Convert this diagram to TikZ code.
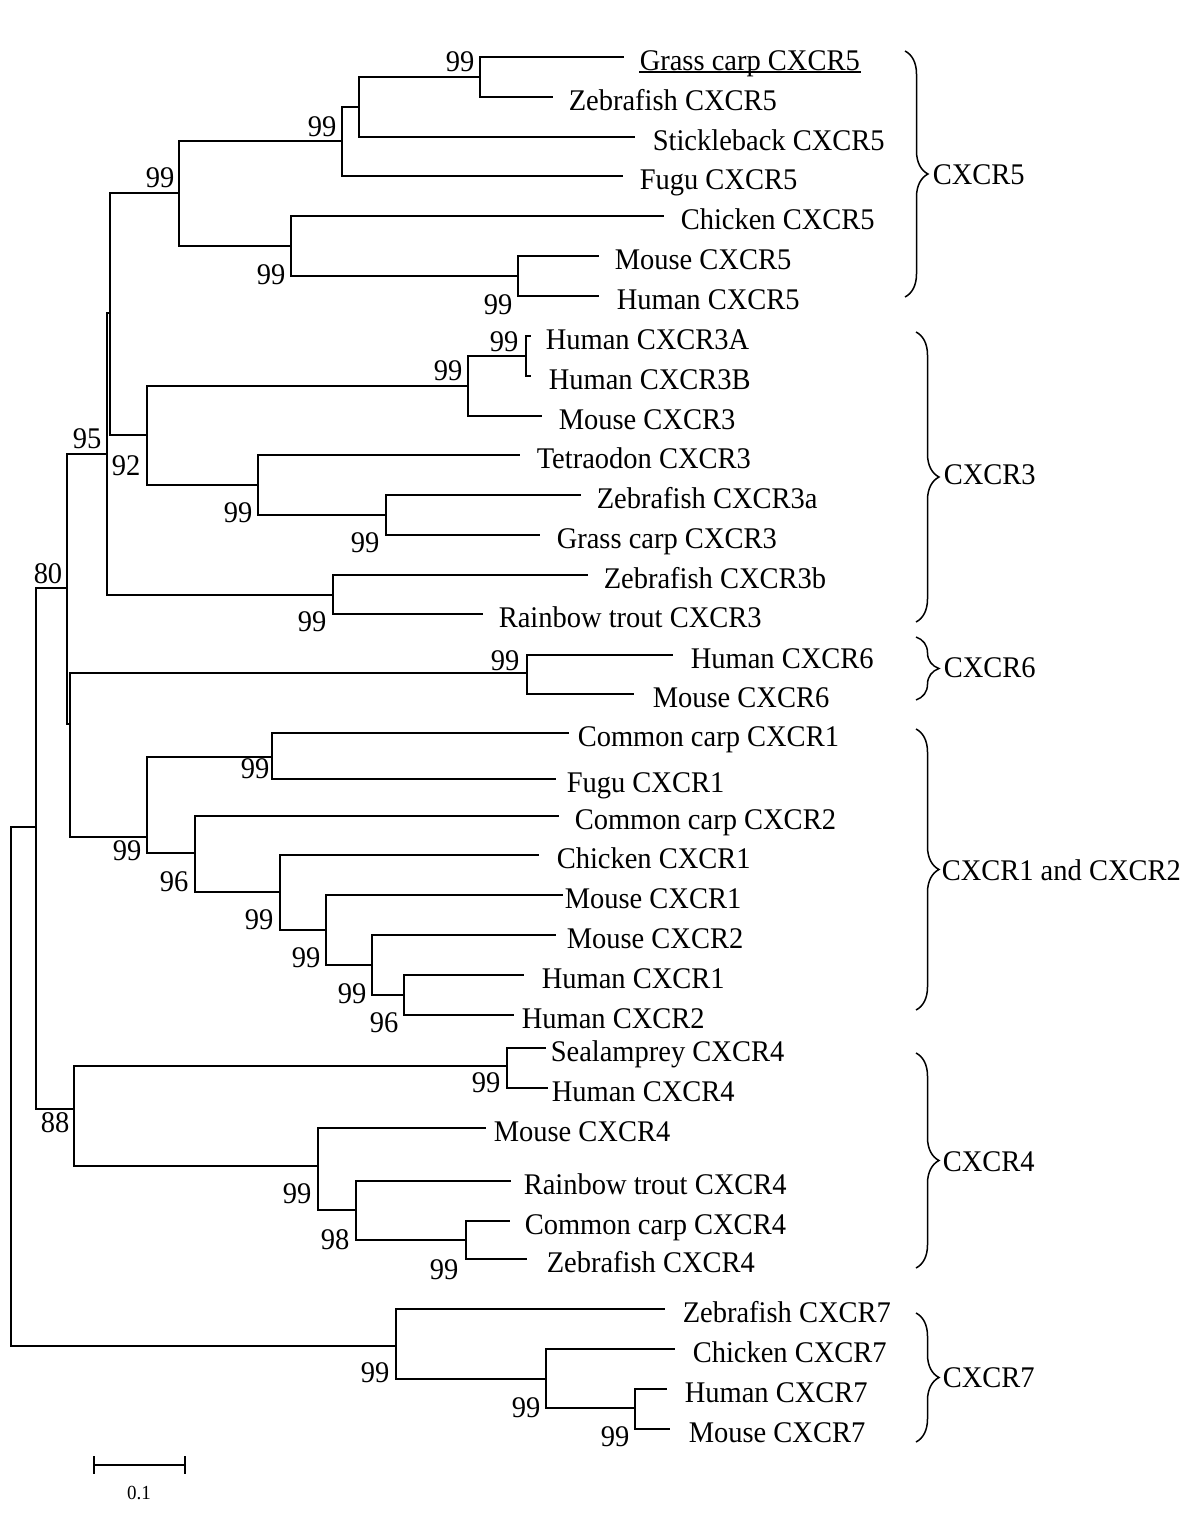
\documentclass[tikz,border=0pt]{standalone}
\usepackage{fontspec}
\setmainfont{Liberation Serif}[FakeStretch=0.95]
\usetikzlibrary{positioning,decorations.pathreplacing}

\begin{document}
\begin{tikzpicture}[
  x=1pt, y=-1pt,
  line width=1.5pt,
  every node/.style={inner sep=0pt, font=\fontsize{30}{34}\selectfont},
  leaf/.style={anchor=base west, yshift=-13pt},
  clade/.style={decorate, decoration={brace, amplitude=23pt}},
  group/.style={anchor=west}
]
\useasboundingbox (0,0) rectangle (1200,1524);

\coordinate (root)    at (11,1086);
\coordinate (top)     at (36,827);
\coordinate (n80)     at (67,588);
\coordinate (n95)     at (107,454);
\coordinate (n5and3)  at (110,313);
\coordinate (c5)      at (179,193);
\coordinate (c5fish)  at (342,141);
\coordinate (c5fishb) at (359,107);
\coordinate (c5carp)  at (480,77);
\coordinate (c5tetra) at (291,246);
\coordinate (c5mam)   at (518,276);
\coordinate (c3)      at (147,435);
\coordinate (c3mam)   at (468,386);
\coordinate (c3hum)   at (526,356);
\coordinate (c3fish)  at (258,485);
\coordinate (c3cyp)   at (386,515);
\coordinate (c3b)     at (333,595);
\coordinate (n6and12) at (70,724);
\coordinate (c6)      at (527,673);
\coordinate (c12)     at (147,837);
\coordinate (c1fish)  at (272,757);
\coordinate (c12b)    at (195,853);
\coordinate (c12c)    at (280,892);
\coordinate (c12d)    at (326,930);
\coordinate (c12e)    at (372,965);
\coordinate (c12hum)  at (404,995);
\coordinate (c4)      at (74,1109);
\coordinate (c4a)     at (507,1066);
\coordinate (c4b)     at (318,1166);
\coordinate (c4c)     at (356,1210);
\coordinate (c4cyp)   at (466,1240);
\coordinate (c7)      at (396,1346);
\coordinate (c7b)     at (546,1379);
\coordinate (c7mam)   at (635,1408);

\coordinate (tgc5)  at (624,57);
\coordinate (tzf5)  at (553,97);
\coordinate (tsb5)  at (635,137);
\coordinate (tfu5)  at (623,176);
\coordinate (tch5)  at (664,216);
\coordinate (tmo5)  at (599,256);
\coordinate (thu5)  at (599,296);
\coordinate (thu3a) at (531,336);
\coordinate (thu3b) at (531,376);
\coordinate (tmo3)  at (542,416);
\coordinate (tte3)  at (520,455);
\coordinate (tzf3a) at (581,495);
\coordinate (tgc3)  at (540,535);
\coordinate (tzf3b) at (588,575);
\coordinate (trt3)  at (483,614);
\coordinate (thu6)  at (673,655);
\coordinate (tmo6)  at (634,694);
\coordinate (tcc1)  at (569,733);
\coordinate (tfu1)  at (556,779);
\coordinate (tcc2)  at (559,816);
\coordinate (tch1)  at (539,855);
\coordinate (tmo1)  at (563,895);
\coordinate (tmo2)  at (556,935);
\coordinate (thu1)  at (524,975);
\coordinate (thu2)  at (514,1015);
\coordinate (tsl4)  at (546,1048);
\coordinate (thu4)  at (548,1088);
\coordinate (tmo4)  at (486,1128);
\coordinate (trt4)  at (511,1181);
\coordinate (tcc4)  at (510,1221);
\coordinate (tzf4)  at (527,1259);
\coordinate (tzf7)  at (665,1309);
\coordinate (tch7)  at (675,1349);
\coordinate (thu7)  at (667,1389);
\coordinate (tmo7)  at (670,1429);

\node (lgc5)  [right=15pt of tgc5, leaf]  {Grass carp CXCR5};
\node (lzf5)  [right=15pt of tzf5, leaf]  {Zebrafish CXCR5};
\node (lsb5)  [right=17pt of tsb5, leaf]  {Stickleback CXCR5};
\node (lfu5)  [right=16pt of tfu5, leaf]  {Fugu CXCR5};
\node (lch5)  [right=16pt of tch5, leaf]  {Chicken CXCR5};
\node (lmo5)  [right=15pt of tmo5, leaf]  {Mouse CXCR5};
\node (lhu5)  [right=17pt of thu5, leaf]  {Human CXCR5};
\node (lhu3a) [right=14pt of thu3a, leaf] {Human CXCR3A};
\node (lhu3b) [right=17pt of thu3b, leaf] {Human CXCR3B};
\node (lmo3)  [right=16pt of tmo3, leaf]  {Mouse CXCR3};
\node (lte3)  [right=16pt of tte3, leaf]  {Tetraodon CXCR3};
\node (lzf3a) [right=15pt of tzf3a, leaf] {Zebrafish CXCR3a};
\node (lgc3)  [right=16pt of tgc3, leaf]  {Grass carp CXCR3};
\node (lzf3b) [right=15pt of tzf3b, leaf] {Zebrafish CXCR3b};
\node (lrt3)  [right=15pt of trt3, leaf]  {Rainbow trout CXCR3};
\node (lhu6)  [right=17pt of thu6, leaf]  {Human CXCR6};
\node (lmo6)  [right=18pt of tmo6, leaf]  {Mouse CXCR6};
\node (lcc1)  [right=8pt of tcc1, leaf]   {Common carp CXCR1};
\node (lfu1)  [right=10pt of tfu1, leaf]  {Fugu CXCR1};
\node (lcc2)  [right=15pt of tcc2, leaf]  {Common carp CXCR2};
\node (lch1)  [right=17pt of tch1, leaf]  {Chicken CXCR1};
\node (lmo1)  [right=1pt of tmo1, leaf]   {Mouse CXCR1};
\node (lmo2)  [right=10pt of tmo2, leaf]  {Mouse CXCR2};
\node (lhu1)  [right=17pt of thu1, leaf]  {Human CXCR1};
\node (lhu2)  [right=7pt of thu2, leaf]   {Human CXCR2};
\node (lsl4)  [right=4pt of tsl4, leaf]   {Sealamprey CXCR4};
\node (lhu4)  [right=3pt of thu4, leaf]   {Human CXCR4};
\node (lmo4)  [right=7pt of tmo4, leaf]   {Mouse CXCR4};
\node (lrt4)  [right=12pt of trt4, leaf]  {Rainbow trout CXCR4};
\node (lcc4)  [right=14pt of tcc4, leaf]  {Common carp CXCR4};
\node (lzf4)  [right=19pt of tzf4, leaf]  {Zebrafish CXCR4};
\node (lzf7)  [right=17pt of tzf7, leaf]  {Zebrafish CXCR7};
\node (lch7)  [right=17pt of tch7, leaf]  {Chicken CXCR7};
\node (lhu7)  [right=17pt of thu7, leaf]  {Human CXCR7};
\node (lmo7)  [right=18pt of tmo7, leaf]  {Mouse CXCR7};

\draw (root) |- (top);
\draw (root) |- (c7);
\draw (top) |- (n80);
\draw (top) |- (c4);
\draw (n80) |- (n95);
\draw (n80) |- (n6and12);
\draw (n95) |- (n5and3);
\draw (n95) |- (c3b);
\draw (n5and3) |- (c5);
\draw (n5and3) |- (c3);

\draw (c5) |- (c5fish);
\draw (c5) |- (c5tetra);
\draw (c5fish) |- (c5fishb);
\draw (c5fish) |- (tfu5);
\draw (c5fishb) |- (c5carp);
\draw (c5fishb) |- (tsb5);
\draw (c5carp) |- (tgc5);
\draw (c5carp) |- (tzf5);
\draw (c5tetra) |- (tch5);
\draw (c5tetra) |- (c5mam);
\draw (c5mam) |- (tmo5);
\draw (c5mam) |- (thu5);

\draw (c3) |- (c3mam);
\draw (c3) |- (c3fish);
\draw (c3mam) |- (c3hum);
\draw (c3mam) |- (tmo3);
\draw (c3hum) |- (thu3a);
\draw (c3hum) |- (thu3b);
\draw (c3fish) |- (tte3);
\draw (c3fish) |- (c3cyp);
\draw (c3cyp) |- (tzf3a);
\draw (c3cyp) |- (tgc3);
\draw (c3b) |- (tzf3b);
\draw (c3b) |- (trt3);

\draw (n6and12) |- (c6);
\draw (n6and12) |- (c12);
\draw (c6) |- (thu6);
\draw (c6) |- (tmo6);

\draw (c12) |- (c1fish);
\draw (c12) |- (c12b);
\draw (c1fish) |- (tcc1);
\draw (c1fish) |- (tfu1);
\draw (c12b) |- (tcc2);
\draw (c12b) |- (c12c);
\draw (c12c) |- (tch1);
\draw (c12c) |- (c12d);
\draw (c12d) |- (tmo1);
\draw (c12d) |- (c12e);
\draw (c12e) |- (tmo2);
\draw (c12e) |- (c12hum);
\draw (c12hum) |- (thu1);
\draw (c12hum) |- (thu2);

\draw (c4) |- (c4a);
\draw (c4) |- (c4b);
\draw (c4a) |- (tsl4);
\draw (c4a) |- (thu4);
\draw (c4b) |- (tmo4);
\draw (c4b) |- (c4c);
\draw (c4c) |- (trt4);
\draw (c4c) |- (c4cyp);
\draw (c4cyp) |- (tcc4);
\draw (c4cyp) |- (tzf4);

\draw (c7) |- (tzf7);
\draw (c7) |- (c7b);
\draw (c7b) |- (tch7);
\draw (c7b) |- (c7mam);
\draw (c7mam) |- (thu7);
\draw (c7mam) |- (tmo7);

\draw[line width=1.2pt] ([yshift=-2pt]lgc5.base west) -- ([yshift=-2pt]lgc5.base east);

\node (sc5carp)   at (460,62)   {99};
\node (sc5fish)   at (322,127)  {99};
\node (sc5)       at (160,178)  {99};
\node (sc5tetra)  at (271,275)  {99};
\node (sc5mam)    at (498,305)  {99};
\node (sc3hum)    at (504,342)  {99};
\node (sc3mam)    at (448,371)  {99};
\node (sn95)      at (87,439)   {95};
\node (sc3)       at (126,466)  {92};
\node (sc3fish)   at (238,513)  {99};
\node (sc3cyp)    at (365,543)  {99};
\node (sc3b)      at (312,622)  {99};
\node (sn80)      at (48,574)   {80};
\node (sc6)       at (505,661)  {99};
\node (sc1fish)   at (255,769)  {99};
\node (sc12)      at (127,851)  {99};
\node (sc12b)     at (174,882)  {96};
\node (sc12c)     at (259,920)  {99};
\node (sc12d)     at (306,958)  {99};
\node (sc12e)     at (352,994)  {99};
\node (sc12hum)   at (384,1023) {96};
\node (sc4a)      at (486,1083) {99};
\node (sc4)       at (55,1123)  {88};
\node (sc4b)      at (297,1194) {99};
\node (sc4c)      at (335,1240) {98};
\node (sc4cyp)    at (444,1270) {99};
\node (sc7)       at (375,1373) {99};
\node (sc7b)      at (526,1408) {99};
\node (sc7mam)    at (615,1437) {99};

\draw[clade] (905,51) -- (905,297);
\draw[clade] (916,332) -- (916,622);
\draw[clade] (916,637) -- (916,700);
\draw[clade] (916,729) -- (916,1010);
\draw[clade] (916,1053) -- (916,1268);
\draw[clade] (916,1313) -- (916,1442);

\node (g5)  [group] at (932,175)  {CXCR5};
\node (g3)  [group] at (943,475)  {CXCR3};
\node (g6)  [group] at (943,668)  {CXCR6};
\node (g12) [group] at (941,870)  {CXCR1 and CXCR2};
\node (g4)  [group] at (942,1162) {CXCR4};
\node (g7)  [group] at (942,1378) {CXCR7};

\coordinate (sb0) at (94,1465);
\coordinate (sb1) at (185,1465);
\draw (sb0) -- (sb1);
\draw ([yshift=9pt]sb0) -- ([yshift=-9pt]sb0);
\draw ([yshift=9pt]sb1) -- ([yshift=-9pt]sb1);
\node (sbl) [font=\fontsize{20}{22}\selectfont] at (139,1493) {0.1};

\end{tikzpicture}
\end{document}
